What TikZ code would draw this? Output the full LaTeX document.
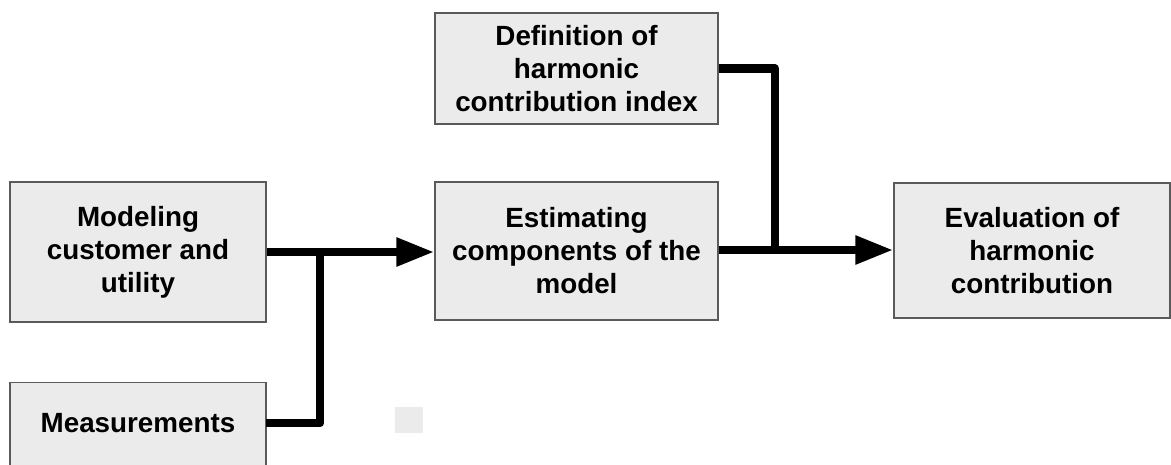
\documentclass[tikz,border=0pt]{standalone}
\usepackage{fontspec}
\setmainfont{Liberation Sans}
\usetikzlibrary{arrows.meta}
\definecolor{boxfill}{HTML}{EBEBEB}
\definecolor{boxline}{HTML}{5A5A5A}
\tikzset{
  box/.style={draw=boxline, line width=1.3pt, fill=boxfill, inner sep=0pt, align=center,
    font=\bfseries\fontsize{27.8}{33}\selectfont},
  lbl/.style={inner sep=0pt, align=center, font=\bfseries\fontsize{27.8}{33}\selectfont},
  conn/.style={line width=8.5pt, line join=round, draw=black},
  arr/.style={conn, -{Triangle[length=38pt,width=27pt]}}
}
\begin{document}
\begin{tikzpicture}[x=1pt,y=-1pt]
\useasboundingbox (0,0) rectangle (1171,464);
% boxes
\node[box, minimum width=256pt, minimum height=140pt] (mod) at (138,252) {Modeling\\customer and\\utility};
\node[box, minimum width=256pt, minimum height=130pt, anchor=north] (meas) at (138,382) {};
\node[lbl] (measlbl) at (138,423) {Measurements};
\node[box, minimum width=283pt, minimum height=111pt] (def) at (576.5,68.5) {Definition of\\harmonic\\contribution index};
\node[box, minimum width=283pt, minimum height=138pt] (est) at (576.5,251) {Estimating\\components of the\\model};
\node[box, minimum width=276pt, minimum height=135pt] (eval) at (1032,250.5) {Evaluation of\\harmonic\\contribution};
\node[fill=boxfill, inner sep=0pt, minimum width=28pt, minimum height=26pt] (sq) at (409,420) {};
% junction points
\coordinate (j1) at (320,252);
\coordinate (mout) at (266,423);
\coordinate (j2) at (775,250);
% connectors
\draw[arr] (mod.east |- j1) -- (est.west |- j1);
\draw[conn] (mout) -| (j1);
\draw[arr] (est.east |- j2) -- (eval.west |- j2);
\draw[conn] (def.east) -| (j2);
\end{tikzpicture}
\end{document}
